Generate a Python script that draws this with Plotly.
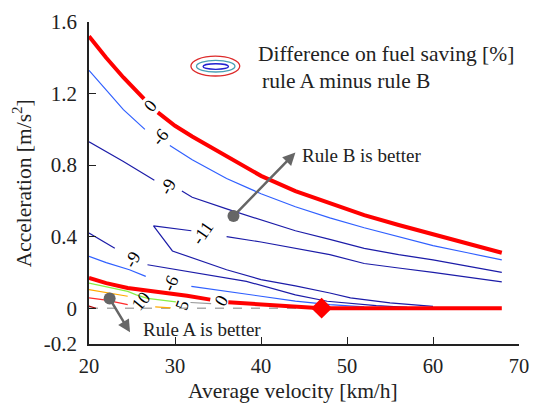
import plotly.graph_objects as go

# ---- contour data (velocity km/h, acceleration m/s^2), None = label gap ----
v_zero_up = [20, 22, 24, 26.4, None, 28.0, 30, 32, 36, 40, 44, 48, 52, 56, 60, 64, 68]
a_zero_up = [1.52, 1.40, 1.29, 1.17, None, 1.095, 1.02, 0.96, 0.85, 0.74, 0.655, 0.585, 0.52, 0.465, 0.415, 0.36, 0.31]

v_m6_up = [20, 22, 24, 26.5, None, 29.4, 32, 36, 40, 44, 48, 52, 56, 60, 64, 68]
a_m6_up = [1.33, 1.22, 1.11, 1.00, None, 0.91, 0.83, 0.725, 0.64, 0.567, 0.505, 0.45, 0.40, 0.35, 0.31, 0.27]

v_m9_up = [20, 22, 24, 27.6, None, 30.8, 32, 36, 40, 44, 48, 52, 56, 60, 64, 68]
a_m9_up = [0.93, 0.875, 0.82, 0.715, None, 0.655, 0.62, 0.555, 0.495, 0.433, 0.385, 0.335, 0.30, 0.27, 0.235, 0.20]

v_m11 = [68, 64, 60, 56, 52, 48, 44, 40, 36, None, 31.9, 27.5, 29.7, 32.6, 36, 40, 44, 48, 50.4, 55, 60]
a_m11 = [0.147, 0.175, 0.20, 0.225, 0.25, 0.30, 0.335, 0.37, 0.40, None, 0.433, 0.46, 0.32, 0.27, 0.215, 0.16, 0.125, 0.085, 0.058, 0.03, 0.01]

v_m9_lo = [20, 23, None, 26.8, 30, 34, 38.3, 44, 47.7, 53.4, 57]
a_m9_lo = [0.42, 0.335, None, 0.243, 0.218, 0.185, 0.15, 0.075, 0.039, 0.015, 0.005]

v_m6_lo = [20, 22, 24.7, 26.6, None, 31.9, 36, 40.6, 44, 48, 52]
a_m6_lo = [0.29, 0.255, 0.215, 0.178, None, 0.122, 0.095, 0.065, 0.04, 0.02, 0.008]

v_zero_lo = [20, 22, 24.5, 27, 29, 31.4, 34.1, None, 36.2, 40, 44, 47, 52, 56, 60, 64, 68]
a_zero_lo = [0.17, 0.14, 0.113, 0.098, 0.085, 0.07, 0.048, None, 0.033, 0.022, 0.012, 0.0, 0, 0, 0, 0, 0]

v_p5 = [20, 22, 24.5, 25.5, 26.8, 30.1]
a_p5 = [0.14, 0.118, 0.094, 0.075, 0.055, 0.035]
v_p5b = [31.8, 34.2]
a_p5b = [0.032, 0.026]

v_p10 = [20, 22, 24.5, None, 27.7, 29.5]
a_p10 = [0.104, 0.088, 0.067, None, 0.008, 0.002]

v_p15 = [20, 22, 24.5]
a_p15 = [0.058, 0.045, 0.02]

v_p20 = [20, 20.8]
a_p20 = [0.012, 0.0]

v_base = [20, 47]
a_base = [0, 0]

v_opt = [47.05]
a_opt = [0]

v_dots = [22.4, 36.8]
a_dots = [0.054, 0.515]

# contour labels
lab_text = ["0", "-6", "-9", "-11", "-9", "-6", "0", "10", "5"]
lab_v = [27.1, 28.3, 29.1, 33.2, 25.0, 29.5, 35.45, 26.05, 30.8]
lab_a = [1.13, 0.955, 0.68, 0.42, 0.27, 0.14, 0.044, 0.04, 0.02]
lab_ang = [-50, -50, -60, -55, -60, -65, -60, -50, -70]

x_ticks = [20, 30, 40, 50, 60, 70]
y_ticks = [-0.2, 0, 0.4, 0.8, 1.2, 1.6]
y_ticktext = ["-0.2", "0", "0.4", "0.8", "1.2", "1.6"]

RED = "#ff0000"
LBLUE = "#3060ff"
DBLUE = "#1c1ca8"
FONT = "Liberation Serif"
TXT = "#222222"

fig = go.Figure()

def line(x, y, color, width, dash=None):
    fig.add_trace(go.Scatter(x=x, y=y, mode="lines", connectgaps=False,
                             line=dict(color=color, width=width, dash=dash),
                             hoverinfo="skip", showlegend=False))

line(v_base, a_base, "#aaaaaa", 1.5, "dash")
line(v_m11, a_m11, DBLUE, 1.2)
line(v_m9_up, a_m9_up, DBLUE, 1.2)
line(v_m9_lo, a_m9_lo, DBLUE, 1.2)
line(v_m6_up, a_m6_up, LBLUE, 1.2)
line(v_m6_lo, a_m6_lo, LBLUE, 1.2)
line(v_p5, a_p5, "#88ee44", 1.2)
line(v_p5b, a_p5b, "#999999", 1.2)
line(v_p10, a_p10, "#ffaa00", 1.2)
line(v_p15, a_p15, "#ff2a2a", 1.2)
line(v_p20, a_p20, "#aa0000", 1.2)
line(v_zero_up, a_zero_up, RED, 4)
line(v_zero_lo, a_zero_lo, RED, 4)

fig.add_trace(go.Scatter(x=v_opt, y=a_opt, mode="markers",
                         marker=dict(symbol="diamond", size=16, color=RED),
                         hoverinfo="skip", showlegend=False))
fig.add_trace(go.Scatter(x=v_dots, y=a_dots, mode="markers",
                         marker=dict(symbol="circle", size=12, color="#666666"),
                         hoverinfo="skip", showlegend=False))

annots = []
for t, xv, yv, ang in zip(lab_text, lab_v, lab_a, lab_ang):
    annots.append(dict(x=xv, y=yv, xref="x", yref="y", text=t, showarrow=False,
                       textangle=ang, font=dict(family=FONT, size=18, color="black")))

# arrows
annots.append(dict(x=44.0, y=0.87, ax=36.8, ay=0.515, xref="x", yref="y", axref="x", ayref="y",
                   text="", showarrow=True, arrowhead=2, arrowsize=1, arrowwidth=2.5, arrowcolor="#666666"))
annots.append(dict(x=24.77, y=-0.135, ax=22.4, ay=0.054, xref="x", yref="y", axref="x", ayref="y",
                   text="", showarrow=True, arrowhead=2, arrowsize=1, arrowwidth=2.5, arrowcolor="#666666"))
annots.append(dict(x=44.5, y=0.854, xref="x", yref="y", text="Rule B is better", showarrow=False,
                   xanchor="left", font=dict(family=FONT, size=19, color=TXT)))
annots.append(dict(x=26.0, y=-0.118, xref="x", yref="y", text="Rule A is better", showarrow=False,
                   xanchor="left", font=dict(family=FONT, size=19, color=TXT)))
annots.append(dict(x=39.4, y=1.419, xref="x", yref="y", text="Difference on fuel saving [%]", showarrow=False,
                   xanchor="left", font=dict(family=FONT, size=21.5, color=TXT)))
annots.append(dict(x=39.9, y=1.27, xref="x", yref="y", text="rule A minus rule B", showarrow=False,
                   xanchor="left", font=dict(family=FONT, size=21.5, color=TXT)))
# axis titles
annots.append(dict(x=0.475, y=-0.147, xref="paper", yref="paper", text="Average velocity [km/h]",
                   showarrow=False, xanchor="center", yanchor="middle",
                   font=dict(family=FONT, size=21.5, color=TXT)))
annots.append(dict(x=-0.155, y=0.5, xref="paper", yref="paper", text="Acceleration [m/s<sup>2</sup>]",
                   showarrow=False, textangle=-90, xanchor="center", yanchor="middle",
                   font=dict(family=FONT, size=21.5, color=TXT)))

shapes = [
    dict(type="circle", xref="x", yref="y", x0=31.85, x1=37.53, y0=1.298, y1=1.409,
         line=dict(color="#dd2a2a", width=1.3)),
    dict(type="circle", xref="x", yref="y", x0=32.5, x1=36.97, y0=1.3206, y1=1.3856,
         line=dict(color="#4a9fb5", width=1.3)),
    dict(type="circle", xref="x", yref="y", x0=33.26, x1=36.22, y0=1.3356, y1=1.3667,
         line=dict(color="#2020d0", width=1.3)),
]

fig.update_layout(
    width=539, height=405,
    margin=dict(l=89, r=10, t=21, b=60.5),
    paper_bgcolor="white", plot_bgcolor="white",
    annotations=annots, shapes=shapes,
    xaxis=dict(range=[20, 70], tickvals=x_ticks, ticks="inside", ticklen=7, tickcolor="#222222",
               showline=True, linecolor="#222222", linewidth=1.5, showgrid=False, zeroline=False,
               tickfont=dict(family=FONT, size=20.5, color=TXT), ticklabelstandoff=3,
               ticklabeloverflow="allow"),
    yaxis=dict(range=[-0.2, 1.6], tickvals=y_ticks, ticktext=y_ticktext, ticks="inside", ticklen=7,
               tickcolor="#222222", showline=True, linecolor="#222222", linewidth=1.5,
               showgrid=False, zeroline=False,
               tickfont=dict(family=FONT, size=21, color=TXT), ticklabelstandoff=6),
)

fig.write_html("out.html")
